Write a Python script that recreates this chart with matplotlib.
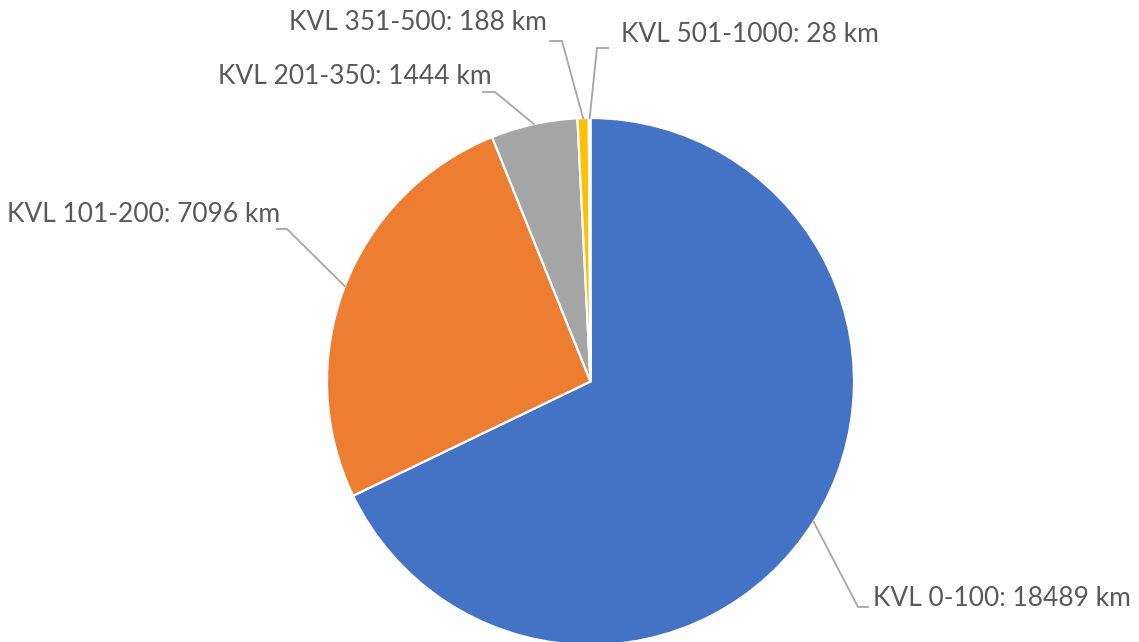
import numpy as np
import matplotlib
matplotlib.use("Agg")
import matplotlib.pyplot as plt

categories = ["KVL 0-100", "KVL 101-200", "KVL 201-350", "KVL 351-500", "KVL 501-1000"]
values_km = [18489, 7096, 1444, 188, 28]
colors = ["#4472C4", "#ED7D31", "#A5A5A5", "#FFC000", "#5B9BD5"]

W, H = 1139, 642
DPI = 100
fig = plt.figure(figsize=(W / DPI, H / DPI), dpi=DPI)
ax = fig.add_axes([0, 0, 1, 1])

# pixel -> data mapping (pie radius 1)
CX, CY, R = 590.5, 381.5, 263.5
def px(x, y):
    return ((x - CX) / R, (CY - y) / R)

wedges, _ = ax.pie(values_km, colors=colors, startangle=90, counterclock=False,
                   radius=1.0, center=(0, 0),
                   wedgeprops=dict(edgecolor="white", linewidth=1.6))

x0, y0 = px(0, 0)
x1, y1 = px(W, H)
ax.set_xlim(x0, x1)
ax.set_ylim(y1, y0)
ax.set_aspect("equal")
ax.axis("off")

# label layout: (text anchor px, ha, elbow start px, elbow end px)
layout = [
    ((873, 598), "left", (858, 607), (868, 607)),
    ((280, 214), "right", (287, 229), (277, 229)),
    ((492, 77), "right", (495, 92), (483, 92)),
    ((547, 22), "right", (562, 41), (550, 41)),
    ((621, 35), "left", (597, 48), (608, 48)),
]

for w, cat, val, (tpos, ha, e1, e2) in zip(wedges, categories, values_km, layout):
    ang = np.deg2rad((w.theta1 + w.theta2) / 2)
    edge = (np.cos(ang), np.sin(ang))
    p1 = px(*e1)
    p2 = px(*e2)
    ax.plot([edge[0], p1[0], p2[0]], [edge[1], p1[1], p2[1]],
            color="#A6A6A6", lw=1.3, solid_joinstyle="miter", zorder=1)
    tx, ty = px(*tpos)
    ax.text(tx, ty, f"{cat}: {val} km", ha=ha, va="center",
            fontsize=19, family="Lato", color="#595959")

fig.savefig("out.png", dpi=DPI)
